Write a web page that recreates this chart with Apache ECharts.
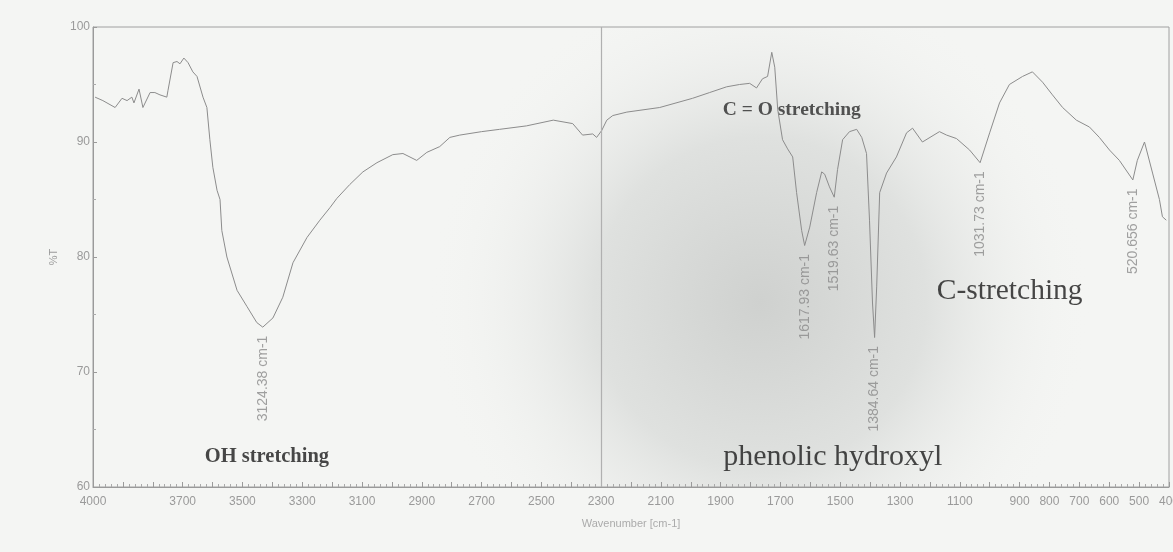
<!DOCTYPE html>
<html>
<head>
<meta charset="utf-8">
<script src="https://cdn.jsdelivr.net/npm/echarts@6/dist/echarts.min.js"></script>
<style>
  html, body { margin: 0; padding: 0; background: #ffffff; }
  #chart { width: 1173px; height: 552px; }
</style>
</head>
<body>
<div id="chart"></div>
<script>
// ---- Data ----
const wavenumbers = [
  3993, 3967, 3926, 3903, 3886, 3870, 3863, 3846, 3833, 3809, 3793, 3776, 3753, 3749,
  3732, 3719, 3709, 3696, 3682, 3666, 3652, 3632, 3619, 3609, 3599, 3585, 3575, 3569,
  3552, 3518, 3485, 3452, 3432, 3398, 3365, 3331, 3284, 3241, 3207, 3184, 3141, 3097,
  3050, 2997, 2963, 2917, 2883, 2840, 2806, 2773, 2700, 2640, 2550, 2460, 2395, 2362,
  2328, 2315, 2298, 2281, 2261, 2214, 2104, 1994, 1937, 1880, 1837, 1803, 1780, 1760,
  1743, 1729, 1719, 1709, 1693, 1676, 1659, 1646, 1629, 1619, 1602, 1579, 1562, 1552,
  1536, 1520, 1509, 1492, 1469, 1445, 1428, 1412, 1402, 1392, 1385, 1378, 1368, 1345,
  1312, 1278, 1258, 1225, 1168, 1144, 1111, 1067, 1032, 1000, 967, 934, 890, 857,
  823, 790, 756, 710, 666, 633, 599, 566, 521, 506, 482, 455, 432, 422, 409
];
const transmittance = [
  93.9, 93.6, 93.0, 93.8, 93.6, 93.9, 93.4, 94.6, 93.0, 94.3, 94.3, 94.1, 93.9, 94.5,
  96.9, 97.0, 96.8, 97.3, 96.9, 96.1, 95.7, 93.9, 93.0, 90.2, 87.8, 85.8, 85.0, 82.3,
  80.0, 77.1, 75.7, 74.3, 73.9, 74.7, 76.5, 79.5, 81.7, 83.2, 84.3, 85.1, 86.3, 87.4,
  88.2, 88.9, 89.0, 88.4, 89.1, 89.6, 90.4, 90.6, 90.9, 91.1, 91.4, 91.9, 91.6, 90.6,
  90.7, 90.4, 91.0, 91.9, 92.3, 92.6, 93.0, 93.8, 94.3, 94.8, 95.0, 95.1, 94.7, 95.5,
  95.7, 97.8, 96.5, 92.8, 90.2, 89.4, 88.7, 85.6, 82.3, 81.0, 82.6, 85.6, 87.4, 87.2,
  86.1, 85.2, 87.6, 90.2, 90.9, 91.1, 90.4, 89.0, 83.2, 76.0, 73.0, 77.4, 85.6, 87.3,
  88.7, 90.8, 91.2, 90.0, 90.9, 90.6, 90.3, 89.3, 88.2, 90.8, 93.4, 95.0, 95.7, 96.1,
  95.2, 94.1, 93.0, 91.9, 91.3, 90.4, 89.3, 88.4, 86.7, 88.4, 90.0, 87.3, 85.0, 83.5, 83.2
];

const xTickLabels = [4000, 3700, 3500, 3300, 3100, 2900, 2700, 2500, 2300, 2100,
  1900, 1700, 1500, 1300, 1100, 900, 800, 700, 600, 500, 400];
const yTickLabels = [60, 70, 80, 90, 100];

const peakWavenumbers = [3432, 1619, 1520, 1385, 1032, 521];
const peakTransmittance = [73.9, 81.0, 85.2, 73.0, 88.2, 86.7];
const peakLabels = ['3124.38 cm-1', '1617.93 cm-1', '1519.63 cm-1',
  '1384.64 cm-1', '1031.73 cm-1', '520.656 cm-1'];

const annotationTexts = ['OH stretching', 'C = O stretching', 'phenolic hydroxyl', 'C-stretching'];
const annotationWavenumbers = [3418, 1662, 1525, 933];
const annotationTransmittance = [62.6, 92.8, 62.6, 77.0];

const foldWavenumber = [2300];

// ---- Build chart ----
const spectrum = wavenumbers.map((w, i) => [w, transmittance[i]]);
const peaks = peakWavenumbers.map((w, i) => ({ value: [w, peakTransmittance[i]], name: peakLabels[i] }));

const annotationStyles = [
  { fontFamily: 'Liberation Serif', fontWeight: 'bold', fontSize: 20.5, color: '#1a1a1a' },
  { fontFamily: 'Liberation Serif', fontWeight: 'bold', fontSize: 19.5, color: '#2a2a2a' },
  { fontFamily: 'Liberation Serif', fontWeight: 'normal', fontSize: 30, color: '#1a1a1a' },
  { fontFamily: 'Liberation Serif', fontWeight: 'normal', fontSize: 29.5, color: '#1a1a1a' }
];
const annotations = annotationTexts.map((t, i) => ({
  value: [annotationWavenumbers[i], annotationTransmittance[i]],
  name: t,
  label: Object.assign({ show: true, position: 'inside', formatter: '{b}' }, annotationStyles[i])
}));

const chart = echarts.init(document.getElementById('chart'), null, { renderer: 'canvas' });
chart.setOption({
  animation: false,
  backgroundColor: '#f4f5f3',
  grid: {
    left: 93, right: 4, top: 27, bottom: 65,
    outerBoundsMode: 'none',
    containLabel: false,
    show: true,
    borderColor: '#a0a0a0', borderWidth: 1,
    backgroundColor: {
      type: 'radial', x: 0.62, y: 0.6, r: 0.72,
      colorStops: [
        { offset: 0, color: '#cfd1cf' },
        { offset: 0.5, color: '#dfe1df' },
        { offset: 1, color: 'rgba(244,245,243,0)' }
      ]
    }
  },
  xAxis: {
    type: 'value', inverse: true, min: 400, max: 4000, interval: 100,
    axisLine: { show: true, lineStyle: { color: '#9a9a9a' } },
    axisTick: { show: true, inside: true, length: 5, lineStyle: { color: '#9a9a9a' } },
    minorTick: { show: true, splitNumber: 5, length: 3, lineStyle: { color: '#aaaaaa' } },
    splitLine: { show: false },
    axisLabel: {
      color: '#9a9a9a', fontSize: 12, fontFamily: 'Liberation Sans', margin: 9,
      formatter: v => xTickLabels.includes(v) ? String(v) : ''
    },
    name: 'Wavenumber [cm-1]', nameLocation: 'middle', nameGap: 31,
    nameTextStyle: { color: '#ababab', fontSize: 11, fontFamily: 'Liberation Sans' }
  },
  yAxis: {
    type: 'value', min: 60, max: 100, interval: 10,
    axisLine: { show: true, lineStyle: { color: '#9a9a9a' } },
    axisTick: { show: true, inside: true, length: 4, lineStyle: { color: '#9a9a9a' } },
    minorTick: { show: true, splitNumber: 2, length: 3, lineStyle: { color: '#aaaaaa' } },
    splitLine: { show: false },
    axisLabel: {
      color: '#9a9a9a', fontSize: 12, fontFamily: 'Liberation Sans', margin: 3,
      formatter: v => yTickLabels.includes(v) ? String(v) : ''
    },
    name: '%T', nameLocation: 'middle', nameGap: 20, nameRotate: 90,
    nameTextStyle: { color: '#9a9a9a', fontSize: 11, fontFamily: 'Liberation Sans' }
  },
  series: [
    {
      type: 'line', data: spectrum, showSymbol: false, silent: true,
      lineStyle: { color: '#8c8c8c', width: 1 },
      markLine: {
        silent: true, symbol: 'none', label: { show: false },
        lineStyle: { color: '#b0b0b0', type: 'solid', width: 1.2 },
        data: foldWavenumber.map(w => ({ xAxis: w }))
      }
    },
    {
      type: 'scatter', data: peaks, symbolSize: 1, itemStyle: { color: 'rgba(0,0,0,0)' },
      silent: true,
      label: {
        show: true, formatter: '{b}', position: 'bottom', distance: 8,
        rotate: 90, align: 'right', verticalAlign: 'middle',
        color: '#8a8a8a', fontSize: 14, fontFamily: 'Liberation Sans'
      }
    },
    {
      type: 'scatter', data: annotations, symbolSize: 1, itemStyle: { color: 'rgba(0,0,0,0)' },
      silent: true
    }
  ]
});
</script>
</body>
</html>
